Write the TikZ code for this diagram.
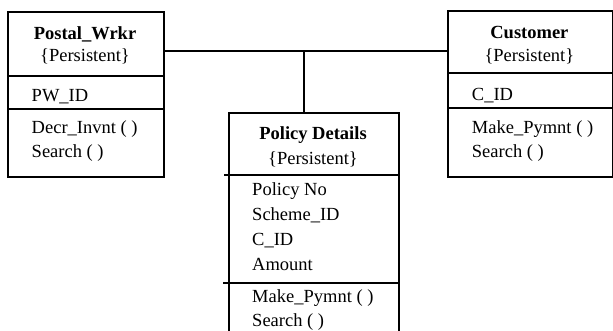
\documentclass[tikz,border=0pt]{standalone}
\usepackage{fontspec}
\setmainfont{Liberation Serif}
\begin{document}
\begin{tikzpicture}[x=1pt,y=-1pt,line width=1.8pt,
  font=\fontsize{18.5}{22}\selectfont,
  classbox/.style={draw, anchor=north west, inner sep=0pt},
  classname/.style={anchor=base, font=\fontsize{18.5}{22}\selectfont\bfseries},
  stereo/.style={anchor=base},
  member/.style={anchor=base west}]

\useasboundingbox (0,0) rectangle (613,331);
\clip (0,0) rectangle (613,331);

%postal worker
\node[classbox, minimum width=156pt, minimum height=165pt] (postal) at (7,11) {};
\draw (7,75.7) -- (163,75.7);
\draw (7,109) -- (163,109);
\node[classname] (postalname) at (85,39.3) {Postal\_Wrkr};
\node[stereo] (postalstereo) at (85,62) {\{Persistent\}};
\node[member] (pwid) at (27.5,101.5) {PW\_ID};
\node[member] (decr) at (27.5,133.3) {Decr\_Invnt ( )};
\node[member] (postalsearch) at (27.5,157.7) {Search ( )};

%customer
\node[classbox, minimum width=164.8pt, minimum height=165.5pt] (customer) at (447,10.5) {};
\draw (447,72.7) -- (611.8,72.7);
\draw (447,108.3) -- (611.8,108.3);
\node[classname] (custname) at (529.4,38.3) {Customer};
\node[stereo] (custstereo) at (529.4,62) {\{Persistent\}};
\node[member] (cid) at (467.7,100.7) {C\_ID};
\node[member] (custpay) at (467.7,133.3) {Make\_Pymnt ( )};
\node[member] (custsearch) at (467.7,157.7) {Search ( )};

%policy details
\node[classbox, minimum width=170.6pt, minimum height=240pt] (policy) at (227.7,112) {};
\draw (224,175) -- (398.3,175);
\draw (223,282.7) -- (398.3,282.7);
\node[classname] (polname) at (313,140) {Policy Details};
\node[stereo] (polstereo) at (313,165) {\{Persistent\}};
\node[member] (polno) at (248,196) {Policy No};
\node[member] (scheme) at (248,220.7) {Scheme\_ID};
\node[member] (polcid) at (248,245.7) {C\_ID};
\node[member] (amount) at (248,270) {Amount};
\node[member] (polpay) at (248,302.5) {Make\_Pymnt ( )};
\node[member] (polsearch) at (248,326.5) {Search ( )};

%association
\coordinate (join) at (304,51);
\draw (postal.east |- join) -- (customer.west |- join);
\draw (join) -- (join |- policy.north);

\end{tikzpicture}
\end{document}
